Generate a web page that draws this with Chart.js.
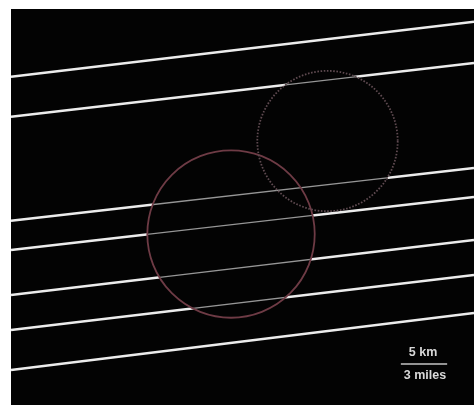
<!DOCTYPE html>
<html>
<head>
<meta charset="utf-8">
<script src="https://cdn.jsdelivr.net/npm/chart.js@4/dist/chart.umd.min.js"></script>
<style>
  html, body { margin: 0; padding: 0; background: #ffffff; }
  canvas { display: block; }
</style>
</head>
<body>
<canvas id="map" width="474" height="405"></canvas>
<script>
// Map extent (km)
const xRange = [0, 50];
const yRange = [0, 42.76];

// Ground tracks: northing (km) at the west and east map edges
const trackWest = [35.45, 31.13, 19.90, 16.74, 11.88, 8.10, 3.78];
const trackEast = [41.39, 36.93, 25.59, 22.46, 17.82, 14.04, 9.94];

// Footprint circles: centre (km), radius (km), outline dash
const circleX = [23.76, 34.18];
const circleY = [18.46, 28.50];
const circleR = [9.04, 7.58];
const circleDash = [[], [1.6, 1.6]];
const circleColor = ['#6e3b45', '#5e4a50'];

// Scale bar
const scaleBarKm = 5;
const scaleBarLabels = ['5 km', '3 miles'];
const scaleBarStart = [42.1, 4.43];

const BG = '#030303';

const datasets = trackWest.map((w, i) => ({
  label: 'Track ' + (i + 1),
  data: [{ x: xRange[0], y: w }, { x: xRange[1], y: trackEast[i] }],
  borderColor: '#ececec',
  borderWidth: 2.5,
  pointRadius: 0,
  showLine: true,
  tension: 0,
  clip: false
}));

const mapDecor = {
  id: 'mapDecor',
  beforeDatasetsDraw(chart) {
    const { ctx, chartArea: a } = chart;
    ctx.save();
    ctx.fillStyle = BG;
    ctx.fillRect(a.left, a.top, a.right - a.left, a.bottom - a.top);
    ctx.restore();
  },
  afterDatasetsDraw(chart) {
    const { ctx, chartArea: a, scales: { x, y } } = chart;
    const kmPx = x.getPixelForValue(1) - x.getPixelForValue(0);
    const circ = circleX.map((cx, i) => ({
      x: x.getPixelForValue(cx),
      y: y.getPixelForValue(circleY[i]),
      r: circleR[i] * kmPx
    }));

    // Tracks inside the footprints are drawn faint
    ctx.save();
    ctx.beginPath();
    circ.forEach(c => { ctx.moveTo(c.x + c.r, c.y); ctx.arc(c.x, c.y, c.r, 0, Math.PI * 2); });
    ctx.clip();
    ctx.fillStyle = BG;
    ctx.fillRect(a.left, a.top, a.right - a.left, a.bottom - a.top);
    ctx.strokeStyle = '#969696';
    ctx.lineWidth = 1.3;
    chart.data.datasets.forEach((ds, di) => {
      const pts = chart.getDatasetMeta(di).data;
      ctx.beginPath();
      ctx.moveTo(pts[0].x, pts[0].y);
      for (let k = 1; k < pts.length; k++) ctx.lineTo(pts[k].x, pts[k].y);
      ctx.stroke();
    });
    ctx.restore();

    // Footprint outlines
    circ.forEach((c, i) => {
      ctx.save();
      ctx.strokeStyle = circleColor[i];
      ctx.lineWidth = 1.8;
      ctx.setLineDash(circleDash[i]);
      ctx.beginPath();
      ctx.arc(c.x, c.y, c.r, 0, Math.PI * 2);
      ctx.stroke();
      ctx.restore();
    });

    // Scale bar
    const x0 = x.getPixelForValue(scaleBarStart[0]);
    const x1 = x.getPixelForValue(scaleBarStart[0] + scaleBarKm);
    const yb = y.getPixelForValue(scaleBarStart[1]);
    ctx.save();
    ctx.strokeStyle = '#c4c4c4';
    ctx.lineWidth = 1.6;
    ctx.beginPath();
    ctx.moveTo(x0, yb);
    ctx.lineTo(x1, yb);
    ctx.stroke();
    ctx.fillStyle = '#d8d8d8';
    ctx.font = 'bold 12.5px "Liberation Sans", Arial, sans-serif';
    ctx.textAlign = 'center';
    ctx.textBaseline = 'middle';
    const xm = (x0 + x1) / 2;
    ctx.fillText(scaleBarLabels[0], xm - 1, yb - 11);
    ctx.fillText(scaleBarLabels[1], xm + 1, yb + 12);
    ctx.restore();
  }
};

new Chart(document.getElementById('map'), {
  type: 'scatter',
  data: { datasets },
  options: {
    responsive: false,
    animation: false,
    layout: { padding: { left: 11, top: 9, right: 0, bottom: 0 } },
    scales: {
      x: { type: 'linear', min: xRange[0], max: xRange[1], display: false },
      y: { type: 'linear', min: yRange[0], max: yRange[1], display: false }
    },
    plugins: { legend: { display: false }, tooltip: { enabled: false } }
  },
  plugins: [mapDecor]
});
</script>
</body>
</html>
